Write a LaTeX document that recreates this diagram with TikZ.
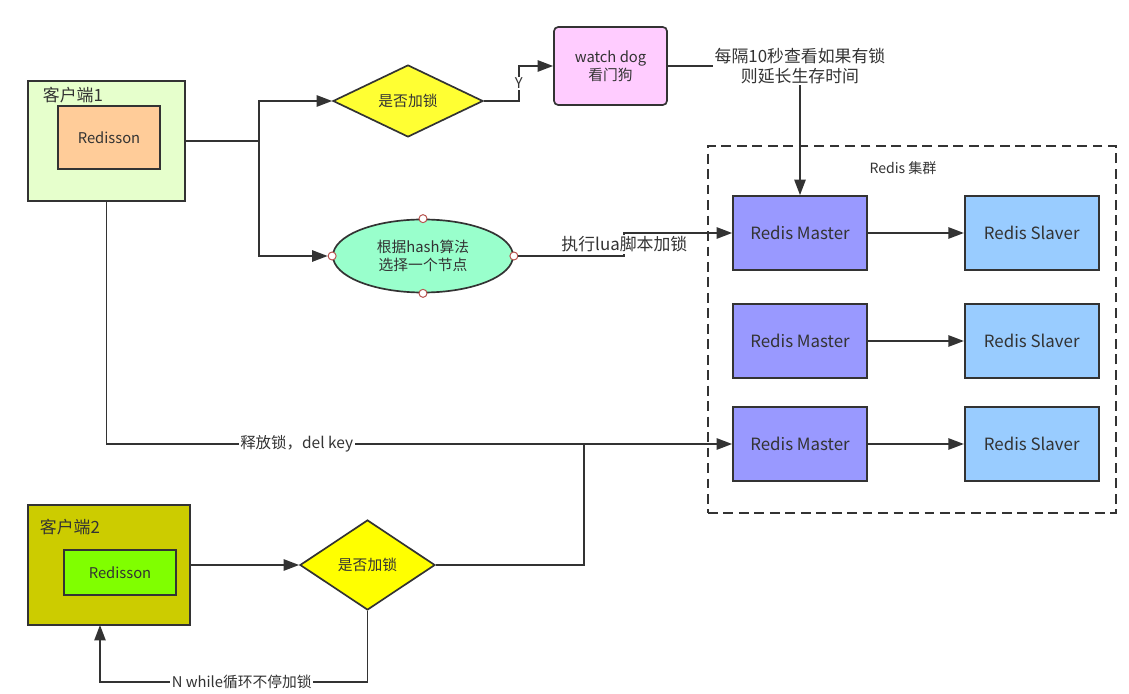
\documentclass[tikz,border=0pt]{standalone}
\usepackage{fontspec}
\setmainfont{Noto Sans CJK SC}
\usetikzlibrary{arrows.meta,shapes.geometric,positioning}
\definecolor{linec}{HTML}{333333}
\definecolor{textc}{HTML}{333333}
\definecolor{clientA}{HTML}{E6FFCC}
\definecolor{redisA}{HTML}{FFCC99}
\definecolor{askA}{HTML}{FFFF33}
\definecolor{dogc}{HTML}{FFCCFF}
\definecolor{hashc}{HTML}{99FFCC}
\definecolor{masterc}{HTML}{9999FF}
\definecolor{slavec}{HTML}{99CCFF}
\definecolor{clientB}{HTML}{CCCC00}
\definecolor{redisB}{HTML}{80FF00}
\definecolor{askB}{HTML}{FFFF00}
\definecolor{portc}{HTML}{B85450}
\tikzstyle{box} = [draw=linec, line width=1.2pt, rectangle, text=textc, inner sep=0pt]
\tikzstyle{master} = [box, fill=masterc, minimum width=3.35cm, minimum height=1.85cm,
font=\fontsize{12}{14}\selectfont]
\tikzstyle{slave} = [box, fill=slavec, minimum width=3.35cm, minimum height=1.85cm,
font=\fontsize{12}{14}\selectfont]
\tikzstyle{ask} = [draw=linec, line width=1.2pt, diamond, aspect=2, inner sep=0pt, text=textc,
font=\fontsize{10.5}{12}\selectfont]
\tikzstyle{lbl} = [fill=white, inner sep=1pt, text=textc, align=center]
\tikzstyle{port} = [circle, draw=portc, fill=white, line width=0.7pt, minimum size=0.2cm, inner sep=0pt]
\tikzstyle{wire} = [draw=linec, line width=1.3pt]

\begin{document}
\begin{tikzpicture}[x=0.025cm, y=-0.025cm, >={Triangle[length=11pt,width=8pt]}]
\useasboundingbox (0,0) rectangle (1129,694);

% cluster
\node [draw=linec, line width=1.3pt, dash pattern=on 7pt off 4pt, minimum width=10.2cm,
minimum height=9.175cm] (cluster) at (912,329.5) {};
\node [text=textc, font=\fontsize{10}{12}\selectfont] (clusterlbl) at (903,168) {Redis 集群};

\foreach \i/\y in {1/233,2/341,3/444} {
  \node [master] (m\i) at (800,\y) {Redis Master};
  \node [slave, right=2.4cm of m\i] (s\i) {Redis Slaver};
  \draw [wire,->] (m\i) -- (s\i);
}

% client 1
\node [box, fill=clientA, minimum width=3.925cm, minimum height=3cm] (client1) at (106.5,141) {};
\node [anchor=west, text=textc, font=\fontsize{12}{14}\selectfont] (c1title) at (38,95) {客户端1};
\node [box, fill=redisA, minimum width=2.55cm, minimum height=1.575cm,
font=\fontsize{10.5}{12}\selectfont] (redisson1) at (109,137.5) {Redisson};

\node [ask, fill=askA, minimum width=3.75cm, minimum height=1.8cm] (lock1) at (408,101) {是否加锁};
\node [box, fill=dogc, rounded corners=3pt, minimum width=2.825cm, minimum height=1.95cm,
align=center, font=\fontsize{10.5}{13}\selectfont] (dog) at (610.5,66) {watch dog\\看门狗};
\node [draw=linec, line width=1.2pt, ellipse, fill=hashc, minimum width=4.5cm, minimum height=1.825cm,
inner sep=0pt, align=center, text=textc, font=\fontsize{10.5}{12.5}\selectfont] (hash) at (423,256)
{根据hash算法\\选择一个节点};
\foreach \a in {north,south,east,west}
  \node [port] (hash-\a) at (hash.\a) {};

\coordinate (split1) at (259,141);
\draw [wire] (client1.east) -- (split1);
\draw [wire,->] (split1) |- (lock1.west);
\draw [wire,->] (split1) |- (hash-west.west);

\draw [wire,->] (lock1.east) -- ++(35,0) |- node [lbl, pos=0.25, inner sep=0.5pt,
font=\fontsize{10.5}{12}\selectfont] {Y} (dog.west);
\draw [wire,->] (dog.east) -| node [lbl, pos=0.5, font=\fontsize{12}{14}\selectfont]
{每隔10秒查看如果有锁\\则延长生存时间} (m1.north);
\draw [wire,->] (hash-east.east) -- ++(106,0) |- node [lbl, pos=0.25,
font=\fontsize{12}{14}\selectfont] {执行lua脚本加锁} (m1.west);

\draw [wire,->] (client1.south) |- node [lbl, pos=0.652,
font=\fontsize{11}{13}\selectfont] {释放锁，del key} (m3.west);

% client 2
\node [box, fill=clientB, minimum width=4.05cm, minimum height=3cm] (client2) at (109,565) {};
\node [anchor=west, text=textc, font=\fontsize{12}{14}\selectfont] (c2title) at (35,527) {客户端2};
\node [box, fill=redisB, minimum width=2.8cm, minimum height=1.125cm,
font=\fontsize{10.5}{12}\selectfont] (redisson2) at (120,572.5) {Redisson};
\node [ask, fill=askB, minimum width=3.375cm, minimum height=2.25cm] (lock2) at (367.5,565) {是否加锁};

\coordinate (join) at (584,444);
\coordinate (back2) at (100,625);
\draw [wire,->] (client2.east) -- (lock2.west);
\draw [wire] (lock2.east) -| (join);
\draw [wire,->] (lock2.south) -- ++(0,71) -| node [lbl, pos=0.235,
font=\fontsize{10.5}{12}\selectfont] {N while循环不停加锁} (back2);
\end{tikzpicture}
\end{document}
